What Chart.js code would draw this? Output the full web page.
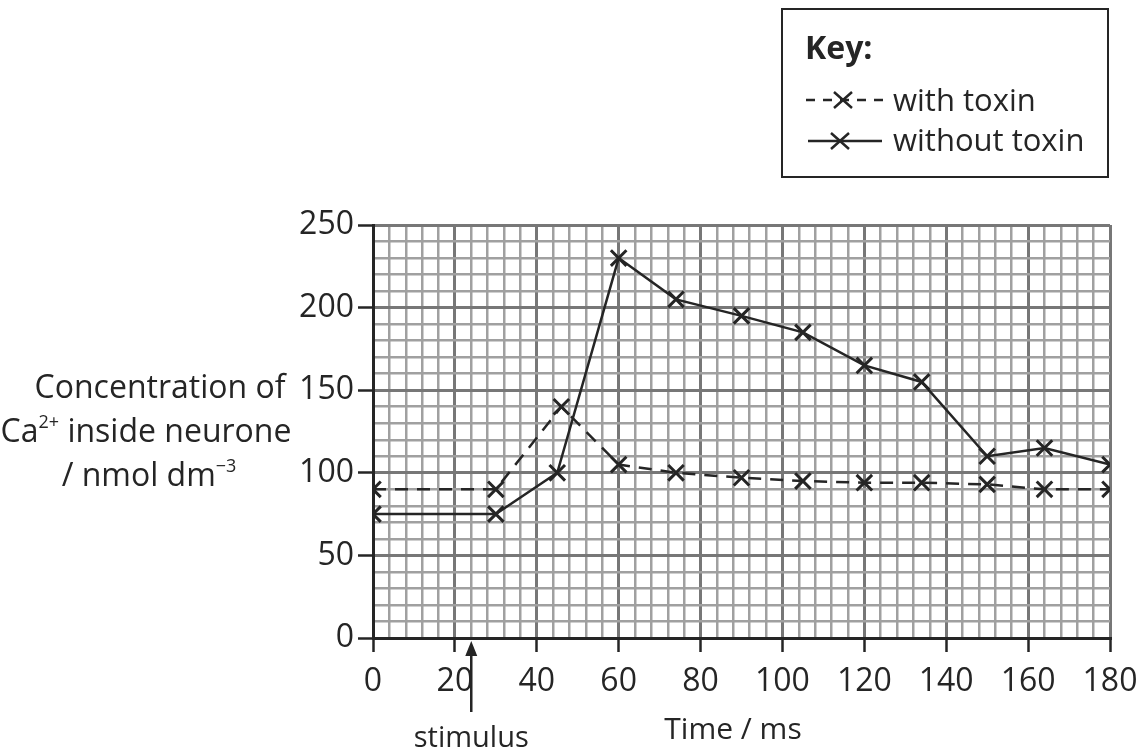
<!DOCTYPE html>
<html>
<head>
<meta charset="utf-8">
<script src="https://cdn.jsdelivr.net/npm/chart.js@4.4.0/dist/chart.umd.min.js"></script>
<style>
    html, body { margin: 0; padding: 0; background: #fff; }
</style>
</head>
<body>
<canvas id="graphCalcium" width="1145" height="751"></canvas>
<script>
// values
var timeWithToxin = [0, 30, 46, 60, 74, 90, 105, 120, 134, 150, 164, 180];
var concWithToxin = [90, 90, 140, 105, 100, 97, 95, 94, 94, 93, 90, 90];
var timeWithoutToxin = [0, 30, 45, 60, 74, 90, 105, 120, 134, 150, 164, 180];
var concWithoutToxin = [75, 75, 100, 230, 205, 195, 185, 165, 155, 110, 115, 105];

var xTickLabels = [0, 20, 40, 60, 80, 100, 120, 140, 160, 180];
var yTickLabels = [0, 50, 100, 150, 200, 250];
var stimulusTime = 24;

var ink = '#252525';
var fontName = "'Open Sans', sans-serif";

function toPoints(xs, ys) {
    return xs.map(function (x, i) { return { x: x, y: ys[i] }; });
}

function isMajor(list, v) {
    return list.indexOf(v) >= 0;
}

var extras = {
    id: 'extras',
    afterDraw: function (chart) {
        var c = chart.ctx;
        var area = chart.chartArea;
        c.save();
        c.fillStyle = ink;
        c.strokeStyle = ink;

        // y axis title, three centred lines
        c.textAlign = 'left';
        c.textBaseline = 'alphabetic';
        var big = '32px ' + fontName, small = '18px ' + fontName;
        function drawParts(parts, cx, y) {
            var total = 0;
            parts.forEach(function (p) { c.font = p.sup ? small : big; total += c.measureText(p.t).width; });
            var x = cx - total / 2;
            parts.forEach(function (p) {
                c.font = p.sup ? small : big;
                c.fillText(p.t, x, p.sup ? y - 14 : y);
                x += c.measureText(p.t).width;
            });
        }
        drawParts([{ t: 'Concentration of' }], 160, 398);
        drawParts([{ t: 'Ca' }, { t: '2+', sup: true }, { t: ' inside neurone' }], 146, 442);
        drawParts([{ t: '/ nmol dm' }, { t: '\u22123', sup: true }], 149, 486);

        // x axis title
        c.font = '30px ' + fontName;
        c.textAlign = 'center';
        c.fillText('Time / ms', 733, 739);

        // stimulus arrow
        var sx = chart.scales.x.getPixelForValue(stimulusTime);
        c.lineWidth = 2.5;
        c.beginPath();
        c.moveTo(sx, area.bottom + 14);
        c.lineTo(sx, 712);
        c.stroke();
        c.beginPath();
        c.moveTo(sx, area.bottom + 3);
        c.lineTo(sx - 6, area.bottom + 18);
        c.lineTo(sx + 6, area.bottom + 18);
        c.closePath();
        c.fill();
        c.font = '29px ' + fontName;
        c.fillText('stimulus', sx, 747);

        // key box
        c.lineWidth = 2;
        c.strokeRect(782, 9, 326, 168);
        c.textAlign = 'left';
        c.font = 'bold 32px ' + fontName;
        c.fillText('Key:', 805, 59);
        c.font = '31px ' + fontName;
        c.fillText('with toxin', 893, 111);
        c.fillText('without toxin', 893, 151);

        c.lineWidth = 2.5;
        c.setLineDash([9, 8]);
        c.beginPath();
        c.moveTo(806, 100);
        c.lineTo(884, 100);
        c.stroke();
        c.setLineDash([]);
        c.beginPath();
        c.moveTo(808, 141);
        c.lineTo(882, 141);
        c.stroke();
        [[843, 100], [840, 141]].forEach(function (p) {
            c.beginPath();
            c.moveTo(p[0] - 9, p[1] - 8); c.lineTo(p[0] + 9, p[1] + 8);
            c.moveTo(p[0] - 9, p[1] + 8); c.lineTo(p[0] + 9, p[1] - 8);
            c.stroke();
        });
        c.restore();
    }
};

var graphCalcium = document.getElementById('graphCalcium').getContext('2d');
new Chart(graphCalcium, {
    type: 'line',
    data: {
        datasets: [
            {
                label: 'with toxin',
                data: toPoints(timeWithToxin, concWithToxin),
                borderColor: ink,
                borderWidth: 2.5,
                borderDash: [13, 9],
                pointStyle: 'crossRot',
                pointRadius: 11,
                pointBorderWidth: 3,
                pointBorderColor: ink,
                fill: false,
                tension: 0
            },
            {
                label: 'without toxin',
                data: toPoints(timeWithoutToxin, concWithoutToxin),
                borderColor: ink,
                borderWidth: 2.5,
                pointStyle: 'crossRot',
                pointRadius: 11,
                pointBorderWidth: 3,
                pointBorderColor: ink,
                fill: false,
                tension: 0
            }
        ]
    },
    options: {
        responsive: false,
        animation: false,
        layout: {
            padding: { top: 225, right: 35, left: 0, bottom: 0 }
        },
        plugins: {
            legend: { display: false },
            tooltip: { enabled: false }
        },
        scales: {
            x: {
                type: 'linear',
                min: 0,
                max: 180,
                afterFit: function (s) {
                    s.height = 113;
                    s.paddingLeft = 0;
                    s.paddingRight = 0;
                },
                ticks: {
                    stepSize: 4,
                    autoSkip: false,
                    maxRotation: 0,
                    color: ink,
                    padding: 11,
                    font: { family: fontName, size: 32 },
                    callback: function (v) { return isMajor(xTickLabels, v) ? String(v) : ''; }
                },
                grid: {
                    color: function (ctx) { return isMajor(xTickLabels, ctx.tick.value) ? '#777777' : '#a0a0a0'; },
                    lineWidth: function (ctx) { return isMajor(xTickLabels, ctx.tick.value) ? 3 : 2.5; },
                    tickLength: 14,
                    tickWidth: 2.5,
                    tickColor: function (ctx) { return isMajor(xTickLabels, ctx.tick.value) ? ink : 'rgba(0,0,0,0)'; }
                },
                border: { color: ink, width: 3 }
            },
            y: {
                min: 0,
                max: 250,
                afterFit: function (s) {
                    s.width = 373;
                    s.paddingTop = 0;
                    s.paddingBottom = 0;
                },
                ticks: {
                    stepSize: 10,
                    autoSkip: false,
                    color: ink,
                    padding: 4,
                    font: { family: fontName, size: 32 },
                    callback: function (v) { return isMajor(yTickLabels, v) ? String(v) : ''; }
                },
                grid: {
                    color: function (ctx) { return isMajor(yTickLabels, ctx.tick.value) ? '#777777' : '#a0a0a0'; },
                    lineWidth: function (ctx) { return isMajor(yTickLabels, ctx.tick.value) ? 3 : 2.5; },
                    tickLength: 15,
                    tickWidth: 2.5,
                    tickColor: function (ctx) { return isMajor(yTickLabels, ctx.tick.value) ? ink : 'rgba(0,0,0,0)'; }
                },
                border: { color: ink, width: 3 }
            }
        }
    },
    plugins: [extras]
});
</script>
</body>
</html>
